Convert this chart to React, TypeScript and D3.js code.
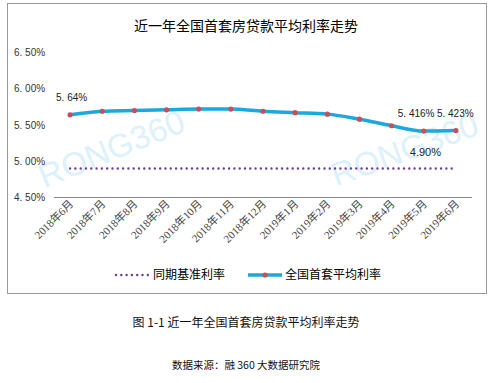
import React from "react";
import * as d3 from "d3";

const months = ["2018年6月","2018年7月","2018年8月","2018年9月","2018年10月","2018年11月","2018年12月","2019年1月","2019年2月","2019年3月","2019年4月","2019年5月","2019年6月"];
const avgRate = [5.64,5.69,5.70,5.71,5.72,5.72,5.69,5.67,5.65,5.58,5.49,5.416,5.423];
const baseRate = [4.9,4.9,4.9,4.9,4.9,4.9,4.9,4.9,4.9,4.9,4.9,4.9,4.9];
const yTicks = [4.5,5.0,5.5,6.0,6.5];
const yTickLabels = ["4. 50%","5. 00%","5. 50%","6. 00%","6. 50%"];

const W = 498, H = 383;
const plotLeft = 54, plotRight = 472, plotTop = 52.5, plotBottom = 197.5;

export default function App() {
  const x = d3.scaleBand<string>().domain(months).range([plotLeft, plotRight]);
  const cx = (m: string) => (x(m) as number) + x.bandwidth() / 2;
  const y = d3.scaleLinear().domain([4.5, 6.5]).range([plotBottom, plotTop]);
  const line = d3.line<number>().x((_, i) => cx(months[i])).y(d => y(d)).curve(d3.curveMonotoneX);
  const cjk = "'Noto Sans CJK SC', sans-serif";
  const sans = "'Liberation Sans', Arial, sans-serif";
  const last = avgRate.length - 1;
  return (
    <svg width={W} height={H} style={{ position: "absolute", left: 0, top: 0, background: "#fff" }}>
      <rect x={0} y={0} width={W} height={H} fill="#fff" />
      <rect x={7.5} y={3.5} width={479} height={290} fill="#fff" stroke="#9a9a9a" strokeWidth={1} />
      {/* watermarks */}
      <text x={112} y={160} transform="rotate(-22 112 150)" textAnchor="middle" fontFamily={sans} fontSize={33} fill="#dcf1fb">RONG360</text>
      <text x={405} y={161} transform="rotate(-20 405 151)" textAnchor="middle" fontFamily={sans} fontSize={33} fill="#dcf1fb">RONG360</text>
      <text x={246} y={31} textAnchor="middle" fontFamily={cjk} fontSize={14} fill="#000">近一年全国首套房贷款平均利率走势</text>
      {yTicks.map((t, i) => (
        <text key={t} x={14} y={y(t)} dy="0.35em" fontFamily={sans} fontSize={10} fill="#333">{yTickLabels[i]}</text>
      ))}
      <line x1={plotLeft} x2={plotRight} y1={y(4.5)} y2={y(4.5)} stroke="#888" strokeWidth={1} />
      {months.map(m => (
        <text key={m} x={0} y={0} transform={`translate(${cx(m) + 4},${plotBottom + 7}) rotate(-45)`} textAnchor="end" fontFamily={"'Liberation Serif', 'Noto Sans CJK SC', serif"} fontSize={11} fill="#444">{m}</text>
      ))}
      <path d={line(baseRate) || ""} fill="none" stroke="#6a3aa0" strokeWidth={2.4} strokeDasharray="0 5.3" strokeLinecap="round" />
      <path d={line(avgRate) || ""} fill="none" stroke="#1aa8df" strokeWidth={3.5} />
      {avgRate.map((v, i) => (
        <circle key={i} cx={cx(months[i])} cy={y(v)} r={2.6} fill="#c4505a" />
      ))}
      <text x={cx(months[0]) - 14} y={y(avgRate[0]) - 14} fontFamily={sans} fontSize={10} fill="#222">5. 64%</text>
      <text x={cx(months[last - 1]) - 26} y={y(avgRate[last - 1]) - 14} fontFamily={sans} fontSize={10} fill="#222">5. 416%</text>
      <text x={cx(months[last]) - 19} y={y(avgRate[last]) - 14} fontFamily={sans} fontSize={10} fill="#222">5. 423%</text>
      <text x={cx(months[last - 1]) - 14} y={y(baseRate[last - 1]) - 13} fontFamily={sans} fontSize={11} fill="#222">4.90%</text>
      {/* legend */}
      <line x1={116} x2={148} y1={275} y2={275} stroke="#6a3aa0" strokeWidth={2.4} strokeDasharray="0 5.3" strokeLinecap="round" />
      <text x={153} y={275} dy="0.35em" fontFamily={cjk} fontSize={12} fill="#000">同期基准利率</text>
      <line x1={248} x2={282} y1={275} y2={275} stroke="#1aa8df" strokeWidth={3.5} />
      <circle cx={265} cy={275} r={2.6} fill="#c4505a" />
      <text x={285} y={275} dy="0.35em" fontFamily={cjk} fontSize={12} fill="#000">全国首套平均利率</text>
      <text x={246} y={323} dy="0.35em" textAnchor="middle" fontFamily={cjk} fontSize={12} fill="#111">图 1-1  近一年全国首套房贷款平均利率走势</text>
      <text x={246} y={365} dy="0.35em" textAnchor="middle" fontFamily={cjk} fontSize={10.5} fill="#111">数据来源：融 360 大数据研究院</text>
    </svg>
  );
}
